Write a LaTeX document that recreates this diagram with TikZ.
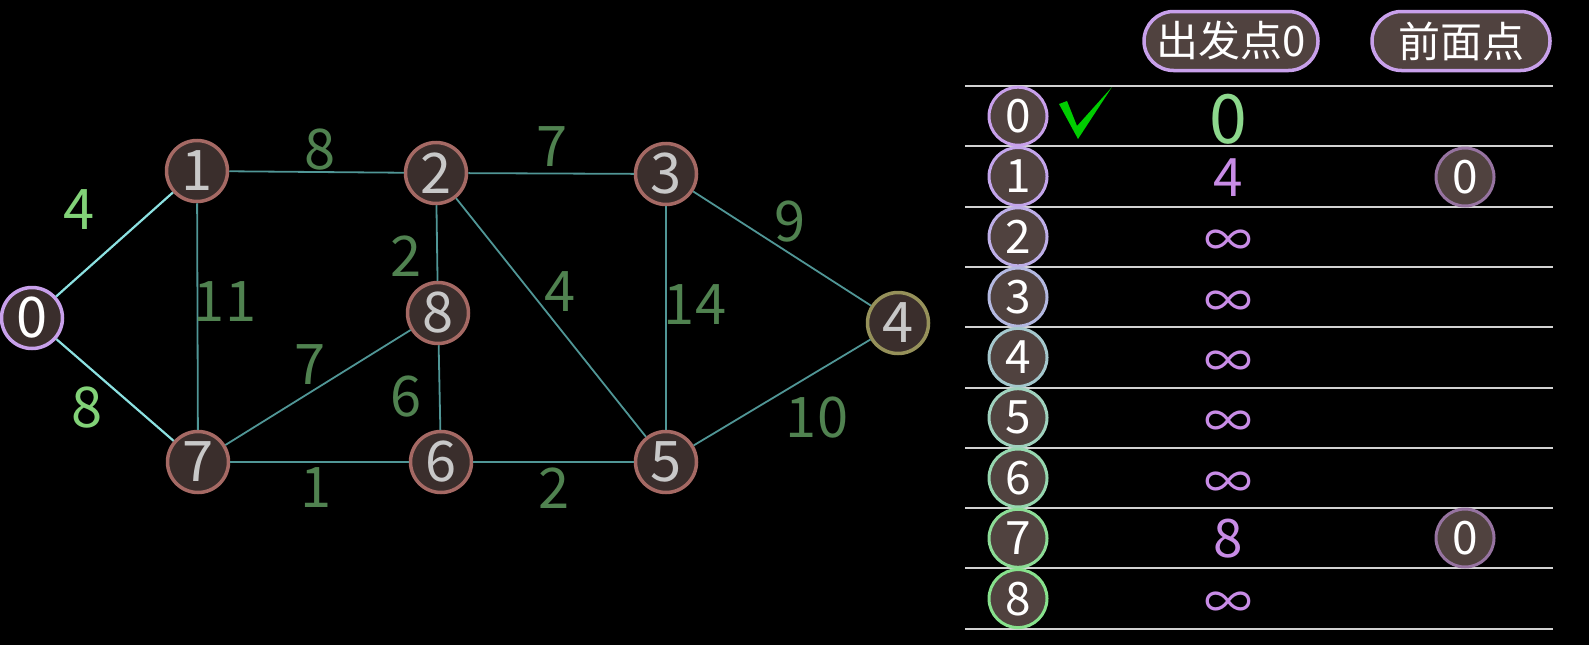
\documentclass[tikz,border=0pt]{standalone}
\usepackage{fontspec}
\setmainfont{Noto Sans CJK SC}
\usetikzlibrary{shapes.misc}
\definecolor{nodefill}{RGB}{58,46,44}
\definecolor{tabfill}{RGB}{80,66,63}
\definecolor{nodeedge}{RGB}{165,105,100}
\definecolor{nodetext}{RGB}{200,200,200}
\definecolor{lav}{RGB}{200,160,235}
\definecolor{olive}{RGB}{150,145,90}
\definecolor{edgelight}{RGB}{140,225,225}
\definecolor{edgedark}{RGB}{80,150,150}
\definecolor{wlight}{RGB}{130,210,120}
\definecolor{wdark}{RGB}{80,130,80}
\definecolor{rule}{RGB}{210,210,210}
\definecolor{dist}{RGB}{200,140,230}
\definecolor{prevedge}{RGB}{150,115,160}
\begin{document}
\begin{tikzpicture}[x=1pt,y=-1pt,
  vertex/.style={circle,draw=nodeedge,fill=nodefill,line width=3.5pt,minimum size=61pt,inner sep=0pt,text=nodetext,font=\fontsize{56}{56}\selectfont},
  weight/.style={text=wdark,font=\fontsize{56}{56}\selectfont},
  rowvertex/.style={circle,fill=tabfill,line width=3pt,minimum size=58pt,inner sep=0pt,text=white,font=\fontsize{46}{46}\selectfont},
  pill/.style={rounded rectangle,draw=lav,fill=tabfill,line width=3.5pt,minimum width=174pt,minimum height=59pt,inner sep=0pt,text=white,font=\fontsize{42}{42}\selectfont}]
\fill[black] (0,0) rectangle (1589,645);
\useasboundingbox (0,0) rectangle (1589,645);

%%%%%%%%%%% graphe
\node[vertex,draw=lav,text=white] (v0) at (32,318) {0};
\node[vertex] (v1) at (197,171) {1};
\node[vertex] (v2) at (436,173) {2};
\node[vertex] (v3) at (666,174) {3};
\node[vertex,draw=olive] (v4) at (898,323) {4};
\node[vertex] (v5) at (666,462) {5};
\node[vertex] (v6) at (441,462) {6};
\node[vertex] (v7) at (198,462) {7};
\node[vertex] (v8) at (438,313) {8};

\draw[edgelight,line width=2.2pt] (v0) -- (v1);
\draw[edgelight,line width=2.2pt] (v0) -- (v7);
\foreach \a/\b in {1/2,1/7,2/3,2/8,2/5,7/8,8/6,7/6,6/5,3/5,3/4,4/5}{
  \draw[edgedark,line width=1.8pt] (v\a) -- (v\b);
}

% ---------------    poids
\node[weight,text=wlight] (w01) at (79,210) {4};
\node[weight,text=wlight] (w07) at (87,408) {8};
\node[weight] (w12) at (320,150) {8};
\node[weight] (w17) at (225,302) {11};
\node[weight] (w78) at (310,365) {7};
\node[weight] (w28) at (406,256) {2};
\node[weight] (w86) at (406,397) {6};
\node[weight] (w76) at (316,488) {1};
\node[weight] (w23) at (552,147) {7};
\node[weight] (w25) at (560,292) {4};
\node[weight] (w35) at (695,305) {14};
\node[weight] (w34) at (790,222) {9};
\node[weight] (w45) at (817,418) {10};
\node[weight] (w65) at (554,488) {2};

%%%%%%%%%%% tableau
\node[pill] (start) at (1231,41) {出发点0};
\node[pill,minimum width=178pt] (prev) at (1461,41) {前面点};

\foreach \j in {0,...,9}{
  \draw[rule,line width=2pt] (965,86+60.3*\j) -- (1553,86+60.3*\j);
}
\foreach \i/\c in {0/{200,160,235},1/{195,165,235},2/{190,175,232},3/{180,185,225},4/{165,200,205},5/{160,210,190},6/{150,215,175},7/{140,220,150},8/{135,225,140}}{
  \definecolor{rowc}{RGB}{\c}
  \node[rowvertex,draw=rowc] (r\i) at (1018,116.2+60.3*\i) {\i};
}

% ---------------    distances
\node[text={rgb,255:red,140;green,215;blue,140},font=\fontsize{68}{68}\selectfont] (d0) at (1228,119) {0};
\node[text=dist,font=\fontsize{53}{53}\selectfont] (d1) at (1228,178) {4};
\node[text=dist,font=\fontsize{53}{53}\selectfont] (d7) at (1228,539) {8};
\foreach \i in {2,3,4,5,6,8}{
  \node[text=dist,font=\fontsize{48}{48}\selectfont] (d\i) at (1228,123.5+60.3*\i) {∞};
}

% ---------------    prédécesseurs
\node[rowvertex,draw=prevedge] (p1) at (1465,177) {0};
\node[rowvertex,draw=prevedge] (p7) at (1465,538) {0};

\fill[green!80!black] (1059,104) -- (1067,101) -- (1077,126) -- (1112,87) -- (1078,139) -- cycle;
\end{tikzpicture}
\end{document}
